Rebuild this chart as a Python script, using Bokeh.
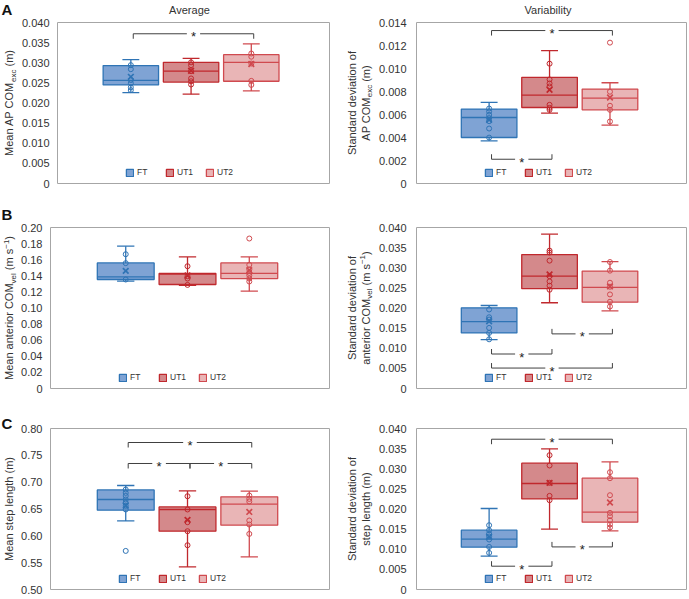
import math
from bokeh.plotting import figure
from bokeh.models import Range1d, FixedTicker, CustomJSTickFormatter, Legend, LegendItem
from bokeh.layouts import column, row
from bokeh.embed import file_html
from bokeh.resources import INLINE
from bokeh.core.properties import value

groups = ["FT", "UT1", "UT2"]
xpos = [1, 2, 3]
col_titles = ["Average", "Variability"]
row_letters = ["A", "B", "C"]

# ---------------- Panel A, Average: Mean AP COMexc (m) ----------------
a1_ticks = [0, 0.005, 0.01, 0.015, 0.02, 0.025, 0.03, 0.035, 0.04]
a1_labels = ["0", "0.005", "0.010", "0.015", "0.020", "0.025", "0.030", "0.035", "0.040"]
a1_q1 = [0.0245, 0.0252, 0.0254]
a1_med = [0.0256, 0.0279, 0.0301]
a1_q3 = [0.0293, 0.0301, 0.0320]
a1_lo = [0.0226, 0.0222, 0.0230]
a1_hi = [0.0308, 0.0311, 0.0347]
a1_mean = [0.0265, 0.0280, 0.0297]
a1_pts_ft = [0.0294, 0.0284, 0.0257, 0.0249, 0.0239, 0.0232]
a1_pts_ut1 = [0.0301, 0.0294, 0.0279, 0.0261, 0.0254, 0.0246]
a1_pts_ut2 = [0.0323, 0.0315, 0.0298, 0.0255, 0.0245]
a1_sig = [(0, 2, 0.0372, -1)]

# ---------------- Panel A, Variability: SD of AP COMexc (m) ----------------
a2_ticks = [0, 0.002, 0.004, 0.006, 0.008, 0.01, 0.012, 0.014]
a2_labels = ["0", "0.002", "0.004", "0.006", "0.008", "0.010", "0.012", "0.014"]
a2_q1 = [0.00400, 0.00661, 0.00641]
a2_med = [0.00574, 0.00769, 0.00743]
a2_q3 = [0.00647, 0.00923, 0.00821]
a2_lo = [0.00371, 0.00612, 0.00507]
a2_hi = [0.00705, 0.01155, 0.00876]
a2_mean = [0.00554, 0.00815, 0.00748]
a2_pts_ft = [0.00652, 0.00626, 0.00597, 0.00569, 0.00542, 0.00478, 0.00399]
a2_pts_ut1 = [0.01042, 0.00905, 0.00870, 0.00844, 0.00684, 0.00658, 0.00641]
a2_pts_ut2 = [0.01225, 0.00798, 0.00676, 0.00641, 0.00539]
a2_sig = [(0, 2, 0.0133, -1), (0, 1, 0.00211, 1)]

# ---------------- Panel B, Average: Mean anterior COMvel ----------------
b1_ticks = [0, 0.02, 0.04, 0.06, 0.08, 0.10, 0.12, 0.14, 0.16, 0.18, 0.20]
b1_labels = ["0", "0.02", "0.04", "0.06", "0.08", "0.10", "0.12", "0.14", "0.16", "0.18", "0.20"]
b1_q1 = [0.1354, 0.1292, 0.1366]
b1_med = [0.1386, 0.1420, 0.1429]
b1_q3 = [0.1560, 0.1429, 0.1560]
b1_lo = [0.1333, 0.1280, 0.1209]
b1_hi = [0.1768, 0.1635, 0.1635]
b1_mean = [0.1461, 0.1404, 0.1470]
b1_pts_ft = [0.1668, 0.1557, 0.1354]
b1_pts_ut1 = [0.1519, 0.1395, 0.1366, 0.1287]
b1_pts_ut2 = [0.1863, 0.1536, 0.1478, 0.1436, 0.1407, 0.1366, 0.1329]
b1_sig = []

# ---------------- Panel B, Variability: SD of anterior COMvel ----------------
b2_ticks = [0, 0.005, 0.01, 0.015, 0.02, 0.025, 0.03, 0.035, 0.04]
b2_labels = ["0", "0.005", "0.010", "0.015", "0.020", "0.025", "0.030", "0.035", "0.040"]
b2_q1 = [0.01381, 0.02479, 0.02145]
b2_med = [0.01663, 0.02793, 0.02511]
b2_q3 = [0.02005, 0.03327, 0.02918]
b2_lo = [0.01214, 0.02130, 0.01930]
b2_hi = [0.02062, 0.03833, 0.03152]
b2_mean = [0.01670, 0.02835, 0.02536]
b2_pts_ft = [0.01963, 0.01770, 0.01713, 0.01506, 0.01381, 0.01222]
b2_pts_ut1 = [0.03426, 0.03377, 0.03177, 0.02790, 0.02661, 0.02554, 0.02454]
b2_pts_ut2 = [0.03142, 0.02928, 0.02628, 0.02529, 0.02337, 0.02155, 0.02037]
b2_sig = [(1, 2, 0.01357, 1), (0, 1, 0.00857, 1), (0, 2, 0.00508, 1)]

# ---------------- Panel C, Average: Mean step length (m) ----------------
c1_ticks = [0.50, 0.55, 0.60, 0.65, 0.70, 0.75, 0.80]
c1_labels = ["0.50", "0.55", "0.60", "0.65", "0.70", "0.75", "0.80"]
c1_q1 = [0.6478, 0.6086, 0.6198]
c1_med = [0.6677, 0.6491, 0.6590]
c1_q3 = [0.6856, 0.6539, 0.6726]
c1_lo = [0.6278, 0.5421, 0.5607]
c1_hi = [0.6938, 0.6837, 0.6832]
c1_mean = [0.6565, 0.6297, 0.6446]
c1_pts_ft = [0.6863, 0.6800, 0.6744, 0.6677, 0.6614, 0.6558, 0.6491, 0.5719]
c1_pts_ut1 = [0.6738, 0.6491, 0.6254, 0.6086, 0.5825]
c1_pts_ut2 = [0.6751, 0.6688, 0.6640, 0.6286, 0.6211, 0.6036]
c1_sig = [(0, 2, 0.7739, -1), (0, 1, 0.7348, -1), (1, 2, 0.7348, -1)]

# ---------------- Panel C, Variability: SD of step length (m) ----------------
c2_ticks = [0, 0.005, 0.01, 0.015, 0.02, 0.025, 0.03, 0.035, 0.04]
c2_labels = ["0", "0.005", "0.010", "0.015", "0.020", "0.025", "0.030", "0.035", "0.040"]
c2_q1 = [0.01051, 0.02251, 0.01672]
c2_med = [0.01250, 0.02633, 0.01920]
c2_q3 = [0.01473, 0.03138, 0.02765]
c2_lo = [0.00827, 0.01498, 0.01456]
c2_hi = [0.02012, 0.03494, 0.03170]
c2_mean = [0.01307, 0.02649, 0.02161]
c2_pts_ft = [0.01597, 0.01473, 0.01381, 0.01317, 0.01242, 0.01058, 0.00910]
c2_pts_ut1 = [0.03337, 0.03081, 0.02650, 0.02326, 0.02219]
c2_pts_ut2 = [0.02914, 0.02765, 0.02343, 0.01903, 0.01821, 0.01722, 0.01615, 0.01540]
c2_sig = [(0, 2, 0.03734, -1), (1, 2, 0.01058, 1), (0, 1, 0.00579, 1)]

# ---------------- styling ----------------
FONT = "Liberation Sans"
TEXT = "#333333"
LINE_COLORS = ["#2f74b5", "#c0282d", "#d04a4f"]
FILL_COLORS = ["#7fa3d4", "#d4898b", "#e9b5b6"]
BRACKET = "#404040"

CW = {" ": 278, "(": 333, ")": 333, "-": 333, ".": 278, "\u2212": 584,
      "A": 667, "B": 667, "C": 722, "D": 722, "E": 667, "F": 611, "G": 778, "H": 722,
      "I": 278, "M": 833, "O": 778, "P": 667, "S": 667, "T": 611, "U": 722,
      "a": 556, "b": 556, "c": 500, "d": 556, "e": 556, "f": 278, "g": 556, "h": 556,
      "i": 222, "j": 222, "k": 500, "l": 222, "m": 833, "n": 556, "o": 556, "p": 556,
      "q": 556, "r": 333, "s": 500, "t": 278, "u": 556, "v": 500, "w": 722, "x": 500,
      "y": 500, "z": 500}
for d in "0123456789":
    CW[d] = 556


def tw(s, size):
    return sum(CW.get(ch, 556) for ch in s) * size / 1000.0


panels = [
    dict(row=0, col=0, yr=(0, 0.04), ticks=a1_ticks, labels=a1_labels, q1=a1_q1, med=a1_med, q3=a1_q3,
         lo=a1_lo, hi=a1_hi, mean=a1_mean, pts=[a1_pts_ft, a1_pts_ut1, a1_pts_ut2], sig=a1_sig,
         ylab=[[("Mean AP COM", "n"), ("exc", "sub"), (" (m)", "n")]]),
    dict(row=0, col=1, yr=(0, 0.014), ticks=a2_ticks, labels=a2_labels, q1=a2_q1, med=a2_med, q3=a2_q3,
         lo=a2_lo, hi=a2_hi, mean=a2_mean, pts=[a2_pts_ft, a2_pts_ut1, a2_pts_ut2], sig=a2_sig,
         ylab=[[("Standard deviation of", "n")], [("AP COM", "n"), ("exc", "sub"), (" (m)", "n")]]),
    dict(row=1, col=0, yr=(0, 0.2), ticks=b1_ticks, labels=b1_labels, q1=b1_q1, med=b1_med, q3=b1_q3,
         lo=b1_lo, hi=b1_hi, mean=b1_mean, pts=[b1_pts_ft, b1_pts_ut1, b1_pts_ut2], sig=b1_sig,
         ylab=[[("Mean anterior COM", "n"), ("vel", "sub"), (" (m s", "n"), ("\u22121", "sup"), (")", "n")]]),
    dict(row=1, col=1, yr=(0, 0.04), ticks=b2_ticks, labels=b2_labels, q1=b2_q1, med=b2_med, q3=b2_q3,
         lo=b2_lo, hi=b2_hi, mean=b2_mean, pts=[b2_pts_ft, b2_pts_ut1, b2_pts_ut2], sig=b2_sig,
         ylab=[[("Standard deviation of", "n")],
               [("anterior COM", "n"), ("vel", "sub"), (" (m s", "n"), ("\u22121", "sup"), (")", "n")]]),
    dict(row=2, col=0, yr=(0.5, 0.8), ticks=c1_ticks, labels=c1_labels, q1=c1_q1, med=c1_med, q3=c1_q3,
         lo=c1_lo, hi=c1_hi, mean=c1_mean, pts=[c1_pts_ft, c1_pts_ut1, c1_pts_ut2], sig=c1_sig,
         ylab=[[("Mean step length (m)", "n")]]),
    dict(row=2, col=1, yr=(0, 0.04), ticks=c2_ticks, labels=c2_labels, q1=c2_q1, med=c2_med, q3=c2_q3,
         lo=c2_lo, hi=c2_hi, mean=c2_mean, pts=[c2_pts_ft, c2_pts_ut1, c2_pts_ut2], sig=c2_sig,
         ylab=[[("Standard deviation of", "n")], [("step length (m)", "n")]]),
]

HEADER_H = 16
ROW_H = [189, 203, 190]
ROW_TOP = [6, 22, 20]
ROW_BOT = [22, 20, 9]
LETTER_Y = [None, 8.5, 14.5]
LETTER_SIZE = 15
FRAME_H = 161
STRIP_W = [18, 30]
STRIP_BASE = [[12.5], [10, 24]]
COL_W = [327, 313]
COL_L = [31, 34]
COL_R = [16, 2]
FRAME_W = [280, 277]
FT_PX = [75.5, 74.5]
PX_UNIT = 62.0
BOX_HALF = 0.46
CAP_HALF = 0.14
BR_OFF = 0.04
GAP = 0.11


def no_align(f):
    try:
        f.frame_align = False
    except Exception:
        pass


def blank_fig(w, h):
    f = figure(width=w, height=h, x_range=Range1d(0, w), y_range=Range1d(h, 0),
               output_backend="svg", toolbar_location=None, tools="", min_border=0,
               min_border_left=0, min_border_right=0, min_border_top=0, min_border_bottom=0,
               x_axis_type=None, y_axis_type=None)
    f.outline_line_color = None
    f.background_fill_color = "white"
    f.border_fill_color = "white"
    no_align(f)
    return f


def put_text(f, x, y, txt, size, align="left", baseline="alphabetic", angle=0.0, bold=False, color=TEXT):
    f.text(x=[x], y=[y], text=[txt], angle=angle, text_align=align, text_baseline=baseline,
           text_font=value(FONT), text_font_size=f"{size}px",
           text_font_style="bold" if bold else "normal", text_color=color)


def make_strip(s):
    r, c = s["row"], s["col"]
    f = blank_fig(STRIP_W[c], ROW_H[r])
    yc = ROW_TOP[r] + FRAME_H / 2.0
    sizes = {"n": 11, "sub": 8, "sup": 8}
    shifts = {"n": 0, "sub": 3, "sup": -4}
    for pieces, bx in zip(s["ylab"], STRIP_BASE[c]):
        total = sum(tw(t, sizes[k]) for t, k in pieces)
        pos = yc + total / 2.0
        for t, k in pieces:
            size = sizes[k]
            lead = len(t) - len(t.lstrip(" "))
            core = t.strip(" ")
            start = pos - tw(" " * lead, size)
            cy = start - tw(core, size) / 2.0
            cx = bx + shifts[k] - 0.33 * size
            put_text(f, cx, cy, core, size, align="center", baseline="middle", angle=math.pi / 2)
            pos -= tw(t, size)
    if c == 0 and LETTER_Y[r] is not None:
        put_text(f, 1, LETTER_Y[r], row_letters[r], LETTER_SIZE, baseline="middle", bold=True,
                 color="#111111")
    return f


def build(s):
    r, c = s["row"], s["col"]
    xs = 1 - FT_PX[c] / PX_UNIT
    xe = xs + FRAME_W[c] / PX_UNIT
    ylo, yhi = s["yr"]
    p = figure(width=COL_W[c], height=ROW_H[r], x_range=Range1d(xs, xe), y_range=Range1d(ylo, yhi),
               output_backend="svg", toolbar_location=None, tools="",
               min_border_left=COL_L[c], min_border_right=COL_R[c],
               min_border_top=ROW_TOP[r], min_border_bottom=ROW_BOT[r])
    no_align(p)
    p.xaxis.visible = False
    p.grid.visible = False
    p.outline_line_color = "#a6a6a6"
    p.outline_line_width = 1
    p.background_fill_color = "white"
    p.border_fill_color = "white"
    ax = p.yaxis[0]
    ax.ticker = FixedTicker(ticks=s["ticks"])
    ax.formatter = CustomJSTickFormatter(args=dict(tvals=s["ticks"], tlabels=s["labels"]), code="""
        let best = 0, bd = Infinity;
        for (let i = 0; i < tvals.length; i++) {
            const d = Math.abs(tvals[i] - tick);
            if (d < bd) { bd = d; best = i; }
        }
        return tlabels[best];
    """)
    ax.axis_line_color = None
    ax.major_tick_line_color = None
    ax.minor_tick_line_color = None
    ax.major_label_standoff = 2 if c == 0 else 4
    ax.major_label_text_font = FONT
    ax.major_label_text_font_size = "11px"
    ax.major_label_text_color = TEXT

    per_px = (yhi - ylo) / float(FRAME_H)

    box_rs = []
    for i in range(3):
        x = xpos[i]
        lc, fc = LINE_COLORS[i], FILL_COLORS[i]
        p.segment(x0=[x, x], y0=[s["lo"][i], s["q3"][i]], x1=[x, x], y1=[s["q1"][i], s["hi"][i]],
                  line_color=lc, line_width=1.3)
        p.segment(x0=[x - CAP_HALF, x - CAP_HALF], y0=[s["lo"][i], s["hi"][i]],
                  x1=[x + CAP_HALF, x + CAP_HALF], y1=[s["lo"][i], s["hi"][i]],
                  line_color=lc, line_width=1.3)
        br = p.quad(left=[x - BOX_HALF], right=[x + BOX_HALF], bottom=[s["q1"][i]], top=[s["q3"][i]],
                    fill_color=fc, line_color=lc, line_width=1.3)
        box_rs.append(br)
        p.segment(x0=[x - BOX_HALF], y0=[s["med"][i]], x1=[x + BOX_HALF], y1=[s["med"][i]],
                  line_color=lc, line_width=1.3)
        pts = s["pts"][i]
        p.scatter(x=[x] * len(pts), y=pts, marker="circle", size=5, fill_alpha=0,
                  line_color=lc, line_width=1)
        p.scatter(x=[x], y=[s["mean"][i]], marker="x", size=8, line_color=lc, line_width=1.7)

    for (i, j, y, d) in s["sig"]:
        x1 = xpos[i] + BR_OFF
        x2 = xpos[j] + BR_OFF
        xm = (x1 + x2) / 2
        yl = y + d * 5 * per_px
        p.segment(x0=[x1, xm + GAP, x1, x2], y0=[y, y, y, y],
                  x1=[xm - GAP, x2, x1, x2], y1=[y, y, yl, yl],
                  line_color=BRACKET, line_width=1)
        p.text(x=[xm], y=[y], text=["*"], text_font=value(FONT), text_font_size="13px",
               text_align="center", text_baseline="middle", y_offset=3, text_color="#222222")

    legend = Legend(items=[LegendItem(label=g, renderers=[rr]) for g, rr in zip(groups, box_rs)],
                    location=(68, 6), orientation="horizontal", glyph_width=9, glyph_height=9,
                    label_text_font_size="8.5px", label_text_font=FONT, label_text_color=TEXT,
                    label_standoff=3, spacing=8, padding=0, margin=0, label_height=9,
                    border_line_color=None, background_fill_alpha=0)
    p.add_layout(legend)
    return p


header = blank_fig(STRIP_W[0] + COL_W[0] + STRIP_W[1] + COL_W[1], HEADER_H)
put_text(header, 1, 8.5, row_letters[0], LETTER_SIZE, baseline="middle", bold=True, color="#111111")
frame_centres = [STRIP_W[0] + COL_L[0] + FRAME_W[0] / 2.0,
                 STRIP_W[0] + COL_W[0] + STRIP_W[1] + COL_L[1] + FRAME_W[1] / 2.0]
for t, xc in zip(col_titles, frame_centres):
    put_text(header, xc, 9, t, 11, align="center", baseline="middle")

rows = []
for r in range(3):
    sl, sr = panels[2 * r], panels[2 * r + 1]
    rows.append(row(make_strip(sl), build(sl), make_strip(sr), build(sr)))

layout = column(header, *rows)

with open("out.html", "w") as f:
    f.write(file_html(layout, INLINE))
